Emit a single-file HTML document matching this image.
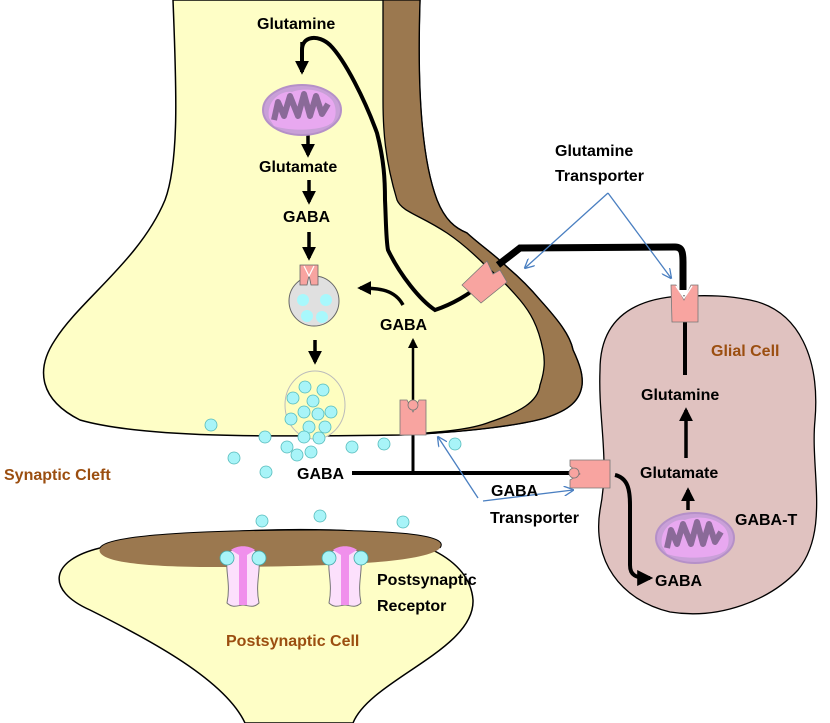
<!DOCTYPE html>
<html><head><meta charset="utf-8"><style>
body{margin:0;background:#fff}
svg{display:block}
text{font-family:"Liberation Sans",sans-serif;font-weight:bold}
</style></head><body>
<svg width="830" height="723" viewBox="0 0 830 723" xmlns="http://www.w3.org/2000/svg">
<defs>
<marker id="ah" viewBox="0 0 10 10" refX="8" refY="5" markerWidth="4" markerHeight="4" orient="auto"><path d="M0,0 L10,5 L0,10 Z" fill="#000"/></marker>
<marker id="bh" viewBox="0 0 10 10" refX="9" refY="5" markerWidth="10" markerHeight="10" orient="auto" markerUnits="userSpaceOnUse"><path d="M0,0 L10,5 L0,10" fill="none" stroke="#4a7fc1" stroke-width="1.3"/></marker>
<g id="mito">
<ellipse cx="0" cy="0" rx="39" ry="25" fill="#c9a0d8" stroke="#b590c8" stroke-width="2"/>
<path d="M-33,8 C-36,-10 -20,-20 -10,-18 C0,-22 20,-22 30,-10 C36,-2 34,12 28,14 C20,20 -10,22 -28,16 Z" fill="#e8a8f0"/>
<path d="M-28,10 L-24,-8 L-18,6 L-12,-14 L-4,6 L2,-16 L8,6 L14,-14 L20,4 L26,-6" fill="none" stroke="#8a6a98" stroke-width="6" stroke-linejoin="round"/>
</g>
<g id="rec">
<path d="M-16,0 C-18,20 -12,30 -16,50 C-10,56 -4,52 0,52 C4,52 10,56 16,50 C12,30 18,20 16,0 C8,-6 -8,-6 -16,0 Z" fill="#fce0fc" stroke="#777" stroke-width="1"/>
<path d="M-4,-4 L-4,52 L4,52 L4,-4 Z" fill="#f090ec"/>
<path d="M-12,-3 C-6,-8 6,-8 12,-3 L4,2 L-4,2 Z" fill="#f090ec"/>
<circle cx="-16" cy="5" r="7" fill="#a8f4f8" stroke="#4aa" stroke-width="0.8"/>
<circle cx="16" cy="5" r="7" fill="#a8f4f8" stroke="#4aa" stroke-width="0.8"/>
</g>
</defs>

<!-- presynaptic -->
<path d="M173,0 C176,80 180,160 165,200 C140,260 80,300 55,340 C35,370 40,400 80,420 C150,440 300,436 400,435 C470,432 520,425 545,418 C570,410 580,400 582,385 C583,375 580,365 573,350 C570,335 558,320 540,300 C530,288 520,278 507,267 C495,255 480,245 467,233 C455,228 445,220 437,200 C418,150 418,60 420,0 Z" fill="#fefec6" stroke="#000" stroke-width="1.5"/>
<!-- brown membrane -->
<path d="M420,0 C418,60 418,150 437,200 C445,220 455,228 467,233 C480,245 495,255 507,267 C520,278 530,288 540,300 C558,320 570,335 573,350 C580,365 583,375 582,385 C580,400 570,410 545,418 C520,425 470,432 400,435 C440,432 470,430 490,422 C520,412 538,402 540,385 C545,370 545,360 543,350 C538,325 530,312 520,300 C510,288 500,278 487,267 C475,255 462,243 447,233 C420,215 402,212 397,200 C385,160 383,130 383,100 L383,0 Z" fill="#9b784f" stroke="#000" stroke-width="1.3"/>

<!-- glial -->
<path d="M680,296 C620,300 600,330 600,370 C598,420 610,460 600,510 C592,560 620,600 670,612 C720,620 770,600 798,570 C830,530 810,470 815,420 C820,360 800,310 750,300 C720,294 700,296 680,296 Z" fill="#e0c2c0" stroke="#000" stroke-width="1.3"/>

<!-- postsynaptic -->
<path d="M245,723 C225,680 150,640 90,610 C45,590 50,560 100,548 C150,535 250,528 330,530 C420,532 470,560 473,600 C475,650 370,680 353,723 Z" fill="#fefec6" stroke="#000" stroke-width="1.5"/>
<path d="M100,548 C105,535 200,530 320,530 C400,531 450,535 440,548 C425,565 300,567 200,567 C130,566 95,560 100,548 Z" fill="#9b784f"/>
<path d="M100,548 C105,535 200,530 320,530 C400,531 450,535 440,548" fill="none" stroke="#000" stroke-width="1"/>

<use href="#rec" x="243" y="553"/>
<use href="#rec" x="345" y="553"/>

<!-- pathway arrows -->
<g stroke="#000" stroke-width="3.5" fill="none">
<path d="M302,72 L302,50 C302,36 318,34 330,45 C345,60 365,100 377,133 C384,160 385,180 385,200 C386,220 386,240 388,250 C400,275 420,300 435,310 C450,305 470,295 485,280" stroke-width="4"/>
<path d="M498,265 L520,248 L675,247 C682,247 683,252 683,262 L683,290" stroke-width="7"/>
<line x1="302" y1="42" x2="302" y2="72" marker-end="url(#ah)"/>
<line x1="308" y1="128" x2="308" y2="155" marker-end="url(#ah)"/>
<line x1="309" y1="180" x2="309" y2="202" marker-end="url(#ah)"/>
<line x1="309" y1="232" x2="309" y2="258" marker-end="url(#ah)"/>
<line x1="315" y1="340" x2="315" y2="362" marker-end="url(#ah)"/>
<path d="M403,305 C395,290 380,288 360,288" marker-end="url(#ah)" stroke-width="3.5"/>
<line x1="413" y1="400" x2="413" y2="340" stroke-width="2.5" marker-end="url(#ah)"/>
<line x1="413" y1="435" x2="413" y2="472" stroke-width="3"/>
<line x1="352" y1="473" x2="570" y2="473" stroke-width="4"/>
<path d="M615,475 C628,478 630,490 630,505 L630,565 C630,575 635,578 650,578" marker-end="url(#ah)" stroke-width="4"/>
<line x1="688" y1="510" x2="688" y2="490" marker-end="url(#ah)"/>
<line x1="686" y1="458" x2="686" y2="410" marker-end="url(#ah)"/>
<line x1="685" y1="320" x2="685" y2="375" stroke-width="4"/>
</g>

<!-- vesicles -->
<circle cx="314" cy="301" r="25" fill="#e0e0e0" stroke="#666" stroke-width="1"/>
<g fill="#a8f8fc"><circle cx="303" cy="300" r="6"/><circle cx="326" cy="300" r="6"/><circle cx="307" cy="316" r="6"/><circle cx="322" cy="317" r="6"/></g>
<path d="M300,265 L318,265 L318,285 L311,285 L309,275 L307,285 L300,285 Z" fill="#f8a4a0" stroke="#666" stroke-width="0.8"/>
<path d="M304,266 L309,276 L314,266" fill="none" stroke="#fff" stroke-width="1.2"/>
<ellipse cx="315" cy="405" rx="30" ry="34" fill="#fefec0" stroke="#bbb" stroke-width="1"/>
<g fill="#a8f4f8" stroke="#5bb" stroke-width="0.8">
<circle cx="305" cy="387" r="6"/><circle cx="323" cy="390" r="6"/><circle cx="293" cy="398" r="6"/><circle cx="313" cy="401" r="6"/>
<circle cx="304" cy="412" r="6"/><circle cx="318" cy="414" r="6"/><circle cx="331" cy="412" r="6"/><circle cx="291" cy="419" r="6"/>
<circle cx="309" cy="427" r="6"/><circle cx="325" cy="427" r="6"/>
<circle cx="265" cy="437" r="6"/><circle cx="287" cy="447" r="6"/><circle cx="304" cy="437" r="6"/><circle cx="319" cy="438" r="6"/>
<circle cx="297" cy="455" r="6"/><circle cx="311" cy="452" r="6"/><circle cx="234" cy="458" r="6"/><circle cx="352" cy="447" r="6"/>
<circle cx="384" cy="444" r="6"/><circle cx="455" cy="444" r="6"/><circle cx="266" cy="472" r="6"/><circle cx="211" cy="425" r="6"/>
<circle cx="262" cy="521" r="6"/><circle cx="320" cy="516" r="6"/><circle cx="403" cy="522" r="6"/>
</g>

<!-- transporters -->
<path d="M400,400 L407,400 L413,412 L419,400 L426,400 L426,435 L400,435 Z" fill="#f8a4a0" stroke="#777" stroke-width="0.8"/>
<circle cx="413" cy="405" r="5" fill="#f8a4a0" stroke="#777" stroke-width="0.8"/>
<path d="M570,460 L610,460 L610,488 L570,488 L570,480 L580,474 L570,466 Z" fill="#f8a4a0" stroke="#777" stroke-width="0.8"/>
<circle cx="574" cy="473" r="5" fill="#f8a4a0" stroke="#777" stroke-width="0.8"/>
<path d="M462,285 L487,261 L493,274 L500,270 L507,282 L481,303 Z" fill="#f8a4a0" stroke="#777" stroke-width="0.8"/>
<path d="M671,285 L676,285 L684,300 L691,285 L698,285 L698,322 L672,322 Z" fill="#f8a4a0" stroke="#777" stroke-width="0.8"/>
<path d="M676,286 L684,298 L692,286" fill="none" stroke="#fff" stroke-width="1.5"/>

<use href="#mito" x="302" y="110"/>
<use href="#mito" x="695" y="538"/>

<!-- blue pointers -->
<g stroke="#4a7fc1" stroke-width="1.3" fill="none">
<line x1="608" y1="193" x2="525" y2="268" marker-end="url(#bh)"/>
<line x1="608" y1="193" x2="671" y2="278" marker-end="url(#bh)"/>
<line x1="478" y1="498" x2="438" y2="437" marker-end="url(#bh)"/>
<line x1="483" y1="501" x2="573" y2="490" marker-end="url(#bh)"/>
</g>

<!-- labels -->
<g font-size="16" fill="#000">
<text x="257" y="29">Glutamine</text>
<text x="259" y="172">Glutamate</text>
<text x="283" y="222">GABA</text>
<text x="380" y="330">GABA</text>
<text x="297" y="479">GABA</text>
<text x="555" y="156">Glutamine</text>
<text x="555" y="181">Transporter</text>
<text x="491" y="496">GABA</text>
<text x="490" y="523">Transporter</text>
<text x="641" y="400">Glutamine</text>
<text x="640" y="478">Glutamate</text>
<text x="735" y="525">GABA-T</text>
<text x="655" y="586">GABA</text>
<text x="377" y="585">Postsynaptic</text>
<text x="377" y="611">Receptor</text>
</g>
<g font-size="16" fill="#9b4e10">
<text x="4" y="480">Synaptic Cleft</text>
<text x="226" y="646">Postsynaptic Cell</text>
<text x="711" y="356">Glial Cell</text>
</g>
</svg>
</body></html>
